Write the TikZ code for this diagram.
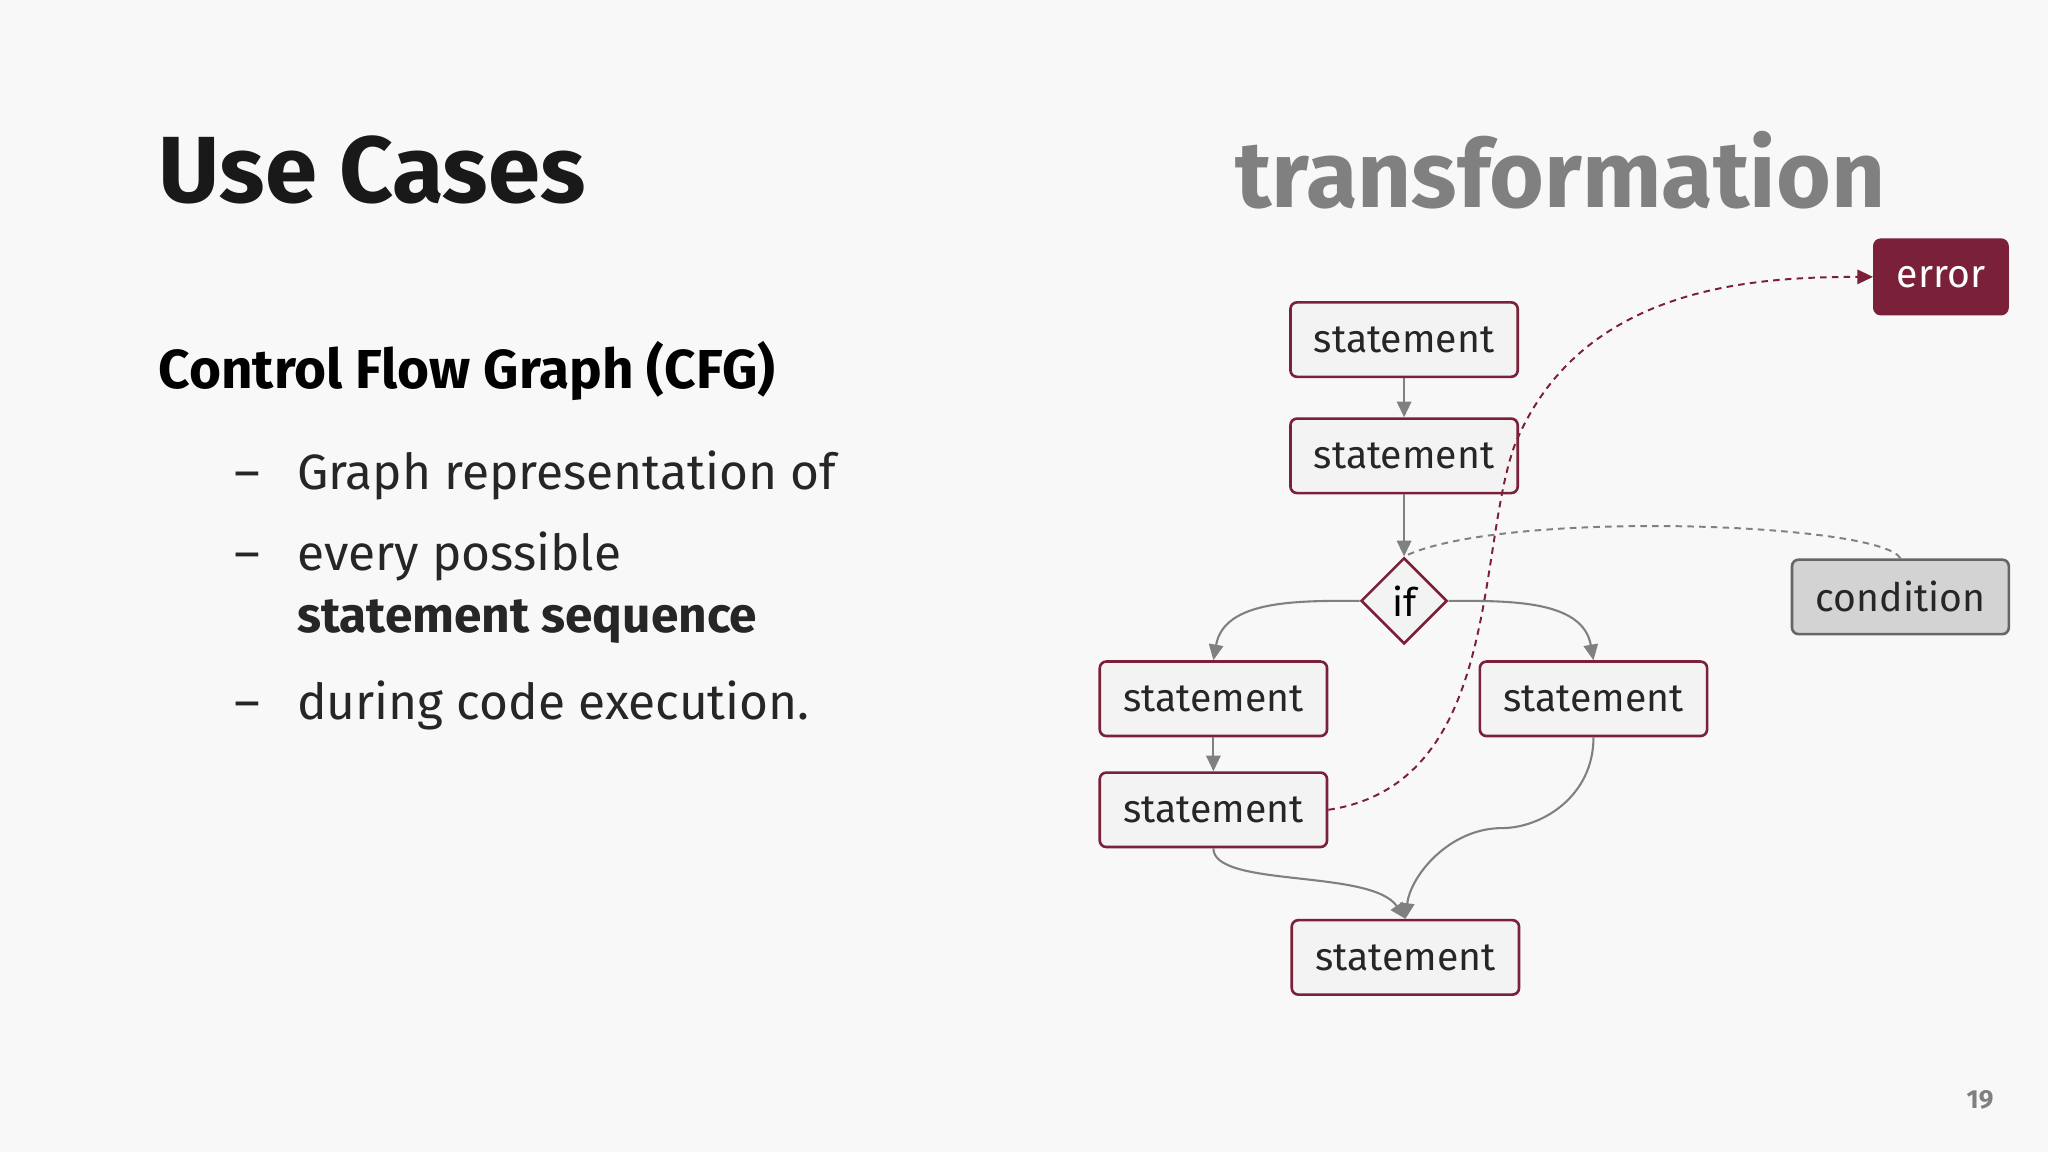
\documentclass[tikz,border=0pt]{standalone}
\usepackage{fontspec}
\setmainfont{Fira Sans}
\usetikzlibrary{shapes.geometric,arrows.meta}
\definecolor{bg}{HTML}{F8F8F8}
\definecolor{dred}{HTML}{7A2039}
\definecolor{boxf}{HTML}{F3F3F3}
\definecolor{gr}{HTML}{808080}
\definecolor{condf}{HTML}{D3D3D3}
\begin{document}
\begin{tikzpicture}[x=1pt,y=-1pt,
  stmt/.style={draw=dred,line width=2pt,fill=boxf,rounded corners=5pt,minimum width=174pt,minimum height=57pt,inner sep=0pt,font=\fontsize{30}{32}\selectfont,text=black!85},
  ifbox/.style={draw=dred,line width=2pt,fill=boxf,diamond,minimum width=66pt,minimum height=66pt,inner sep=0pt,font=\fontsize{30}{32}\selectfont},
  ar/.style={gr,line width=1.6pt,-{Triangle[length=12pt,width=11pt]}},
  dsh/.style={dred,line width=1.5pt,dashed,dash pattern=on 5pt off 4pt}]
\fill[bg] (0,0) rectangle (1568,882);
\node[anchor=west,font=\bfseries\fontsize{72}{72}\selectfont,text=black!90] (t) at (118,130) {Use Cases};
\node[anchor=east,font=\bfseries\fontsize{72}{72}\selectfont,text=gr] (tr) at (1447,130) {transformation};
\node[anchor=west,font=\bfseries\fontsize{42}{42}\selectfont] (cfg) at (118,284) {Control Flow Graph (CFG)};
\begin{scope}[every node/.style={anchor=base west,font=\fontsize{38}{38}\selectfont,text=black!85}]
\node (d1) at (176,375) {–}; \node (l1) at (224,375) {Graph representation of};
\node (d2) at (176,437) {–}; \node (l2) at (224,437) {every possible};
\node (l3) at (224,484) {\bfseries statement sequence};
\node (d4) at (176,551) {–}; \node (l4) at (224,551) {during code execution.};
\end{scope}
\node[stmt] (s1) at (1075,260) {statement};
\node[stmt] (s2) at (1075,349) {statement};
\node[ifbox] (if) at (1075,460) {if};
\node[stmt] (s3) at (929,535) {statement};
\node[stmt] (s4) at (1220,535) {statement};
\node[stmt] (s5) at (929,620) {statement};
\node[stmt] (s6) at (1076,733) {statement};
\node[stmt,fill=dred,text=white,minimum width=102pt] (err) at (1486,212) {error};
\node[stmt,draw=black!60,fill=condf,minimum width=166pt] (cond) at (1455,457) {condition};
\node[text=gr,font=\bfseries\fontsize{20}{20}\selectfont] (pg) at (1516,842) {19};
\draw[ar] (s1) -- (s2);
\draw[ar] (s2) -- (if);
\draw[ar] (if.west) to[out=180,in=80] (s3.north);
\draw[ar] (if.east) to[out=0,in=100] (s4.north);
\draw[ar] (s3) -- (s5);
\draw[ar] (s5.south) .. controls (929,680) and (1050,665) .. (s6.north);
\draw[ar] (s4.south) .. controls (1220,610) and (1180,634) .. (1150,634) .. controls (1110,634) and (1080,670) .. (s6.north);
\draw[dsh,-{Triangle[length=12pt,width=11pt]}] (s5.east) .. controls (1150,600) and (1130,420) .. (1160,340) .. controls (1210,220) and (1340,212) .. (err.west);
\draw[gr,line width=1.5pt,dashed,dash pattern=on 5pt off 4pt] (cond.north) .. controls (1440,400) and (1150,390) .. (if.north);
\end{tikzpicture}
\end{document}
